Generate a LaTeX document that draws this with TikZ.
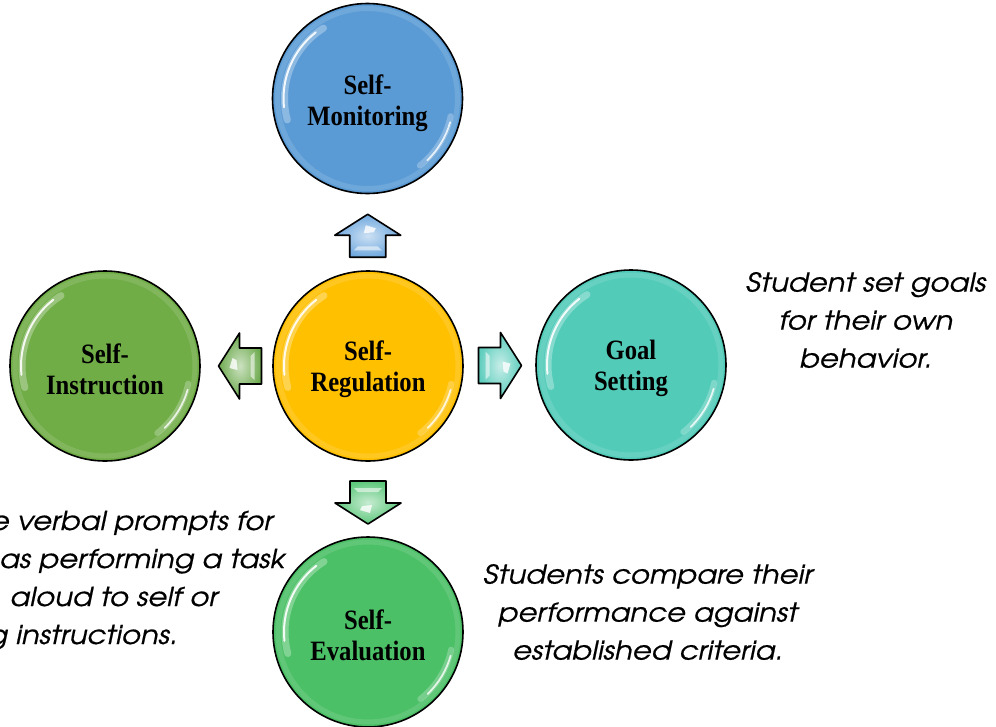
\documentclass[tikz,border=0pt]{standalone}
\usepackage{fontspec}
\setmainfont{Liberation Serif}
\newfontfamily\notefont{TeX Gyre Adventor}[FakeStretch=1.12, FakeBold=0.6]
\newfontfamily\ballfont{Liberation Serif}[FakeStretch=0.88]
\usetikzlibrary{calc}

\definecolor{monblue}{HTML}{5B9BD5}
\definecolor{reggold}{HTML}{FFC000}
\definecolor{insgreen}{HTML}{70AD47}
\definecolor{goalteal}{HTML}{52CBB9}
\definecolor{evalgreen}{HTML}{4BC067}
\definecolor{uparrow}{HTML}{6FA8DE}
\definecolor{leftarrow}{HTML}{6DAA4E}
\definecolor{rightarrow}{HTML}{5ECDBD}
\definecolor{downarrow}{HTML}{5DC77B}

\tikzset{
  x=1pt, y=1pt,
  ball/.style={circle, minimum size=190pt, inner sep=0pt, draw=black,
    line width=1.6pt, fill=#1},
  balltext/.style={align=center, inner sep=0pt,
    font=\ballfont\bfseries\fontsize{28}{31}\selectfont},
  note/.style={font=\notefont\itshape\fontsize{26}{38}\selectfont,
    align=center, inner sep=0pt},
  noteline/.style={font=\notefont\itshape\fontsize{26}{38}\selectfont,
    inner sep=0pt, anchor=base east},
  blockarrow/.pic={
    \shade[inner color=#1!35!white, outer color=#1]
      (-21,-18) -- (1,-18) -- (1,-33) -- (22,0) -- (1,33) -- (1,18) -- (-21,18) -- cycle;
    \fill[white, opacity=0.55] (-14,-14) -- (-10,-10) -- (-10,10) -- (-14,14) -- cycle;
    \fill[white, opacity=0.8] (3,4) -- (11,2) -- (8,-8) -- (4,-6) -- cycle;
    \draw[black, line width=1.6pt, line join=round]
      (-21,-18) -- (1,-18) -- (1,-33) -- (22,0) -- (1,33) -- (1,18) -- (-21,18) -- cycle;
  }
}

% glossy rim highlights on a ball node
\newcommand\glossball[1]{%
  \draw[white, opacity=0.12, line width=5pt] (#1.center) circle[radius=90pt];
  \draw[white, opacity=0.3, line width=7pt, line cap=round]
    ($(#1.center)+(122:83pt)$) arc[start angle=122, end angle=195, radius=83pt];
  \draw[white, opacity=0.9, line width=2pt, line cap=round]
    ($(#1.center)+(128:84pt)$) arc[start angle=128, end angle=186, radius=84pt];
  \draw[white, opacity=0.25, line width=6pt, line cap=round]
    ($(#1.center)+(-12:85pt)$) arc[start angle=-12, end angle=-52, radius=85pt];
  \draw[white, opacity=0.8, line width=1.8pt, line cap=round]
    ($(#1.center)+(-16:86pt)$) arc[start angle=-16, end angle=-46, radius=86pt];
}

\begin{document}
\begin{tikzpicture}
\useasboundingbox (0,0) rectangle (996,-726);

% the five balls
\node[ball=monblue]   (mon)  at (367.5,-98.5) {};
\node[ball=reggold]   (reg)  at (368,-366)    {};
\node[ball=insgreen]  (ins)  at (105,-366)    {};
\node[ball=goalteal]  (goal) at (631,-365)    {};
\node[ball=evalgreen] (eval) at (368,-632)    {};

\glossball{mon}
\glossball{reg}
\glossball{ins}
\glossball{goal}
\glossball{eval}

% ball captions
\node[balltext] (monText)  at ($(mon)+(0,-5)$)  {Self-\\Monitoring};
\node[balltext] (regText)  at ($(reg)+(0,-3)$)  {Self-\\Regulation};
\node[balltext] (insText)  at ($(ins)+(0,-3)$)  {Self-\\Instruction};
\node[balltext] (goalText) at ($(goal)+(0,-3)$) {Goal\\Setting};
\node[balltext] (evalText) at ($(eval)+(0,-3)$) {Self-\\Evaluation};

% block arrows from the centre ball to each outer ball
\coordinate (toMon)  at ($(reg)!0.5!(mon)$);
\coordinate (toIns)  at ($(reg)!0.5!(ins)$);
\coordinate (toGoal) at ($(reg)!0.5!(goal)$);
\coordinate (toEval) at ($(reg)!0.5!(eval)$);
\pic[rotate=90]  at ($(toMon)+(0,-4)$)  {blockarrow=uparrow};
\pic[rotate=180] at ($(toIns)+(4,0)$)   {blockarrow=leftarrow};
\pic[rotate=0]   at (toGoal)            {blockarrow=rightarrow};
\pic[rotate=-90] at ($(toEval)+(0,-3)$) {blockarrow=downarrow};

% descriptions
\node[note] (goalnote) at (866,-320) {Student set goals\\for their own\\behavior.};
\node[note] (evalnote) at (648,-612) {Students compare their\\performance against\\established criteria.};
\node[noteline] (insnoteA) at (273,-530) {e verbal prompts for};
\node[noteline] (insnoteB) at (285,-568) {as performing a task};
\node[noteline] (insnoteC) at (218,-606) {aloud to self or};
\node[noteline] (insnoteD) at (178,-644) {g instructions.};
\end{tikzpicture}
\end{document}
